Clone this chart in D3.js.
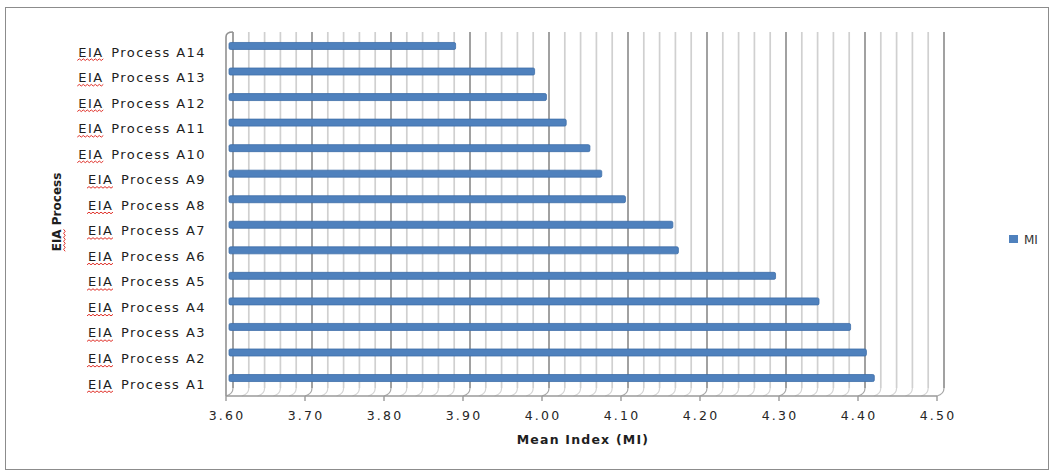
<!DOCTYPE html>
<html>
<head>
<meta charset="utf-8">
<script src="https://cdn.jsdelivr.net/npm/d3@7"></script>
<style>
  html, body { margin: 0; padding: 0; background: #fff; }
  svg { display: block; }
  text { white-space: pre; }
</style>
</head>
<body>
<svg id="chart" width="1051" height="470"></svg>
<script>
// ---- data ----
const categories = ["EIA  Process A14","EIA  Process A13","EIA  Process A12","EIA  Process A11","EIA  Process A10",
  "EIA  Process A9","EIA  Process A8","EIA  Process A7","EIA  Process A6","EIA  Process A5",
  "EIA  Process A4","EIA  Process A3","EIA  Process A2","EIA  Process A1"];
const values = [3.89, 3.99, 4.005, 4.03, 4.06, 4.075, 4.105, 4.165, 4.172, 4.295, 4.35, 4.39, 4.41, 4.42];
const tickLabels = ["3.60","3.70","3.80","3.90","4.00","4.10","4.20","4.30","4.40","4.50"];
const seriesName = "MI";
const xTitle = "Mean Index (MI)";
const yTitle = "EIA Process";

// ---- layout ----
const svg = d3.select("#chart");
const front = { left: 226, right: 937, bottom: 396 };
const depth = { dx: 7, dy: -8 };
const backTop = 32;
const barColor = "#4F81BD";

const x = d3.scaleLinear().domain([3.6, 4.5]).range([front.left, front.right]);
const y = d3.scaleBand().domain(categories).range([33.2, 390.8]).padding(0);

// outer frame
svg.append("rect").attr("x", 5.5).attr("y", 7.5).attr("width", 1043).attr("height", 462)
  .attr("fill", "none").attr("stroke", "#8c8c8c").attr("stroke-width", 1);

// gridlines on back wall (minor every 0.02, major every 0.1)
const gridVals = x.ticks(45);
const isMajor = v => Math.abs(Math.round(v * 10) - v * 10) < 1e-6;
const g = svg.append("g");
const backBottom = front.bottom + depth.dy;
g.selectAll("line.grid").data(gridVals).join("line")
  .attr("x1", d => x(d) + depth.dx).attr("x2", d => x(d) + depth.dx)
  .attr("y1", backTop).attr("y2", backBottom)
  .attr("stroke", d => isMajor(d) ? "#919191" : "#d0d0d0")
  .attr("stroke-width", 1.7);
// floor diagonals
g.selectAll("path.floor").data(gridVals).join("path")
  .attr("d", d => `M${x(d) + depth.dx},${backBottom} Q${x(d) + depth.dx},${front.bottom - 2} ${x(d)},${front.bottom}`)
  .attr("fill", "none")
  .attr("stroke", d => isMajor(d) ? "#a8a8a8" : "#d4d4d4")
  .attr("stroke-width", 1.2);

// left wall front edge + top corner
g.append("path")
  .attr("d", `M${front.left},${front.bottom} L${front.left},${backTop + 5} Q${front.left},${backTop} ${front.left + depth.dx},${backTop}`)
  .attr("fill", "none").attr("stroke", "#919191").attr("stroke-width", 1.6);

// floor front edge
g.append("line").attr("x1", front.left).attr("x2", front.right)
  .attr("y1", front.bottom).attr("y2", front.bottom)
  .attr("stroke", "#9a9a9a").attr("stroke-width", 1.4);

// x axis ticks & labels
const majorTicks = tickLabels.map(t => +t);
const ax = svg.append("g");
ax.selectAll("line").data(majorTicks).join("line")
  .attr("x1", d => x(d)).attr("x2", d => x(d))
  .attr("y1", front.bottom).attr("y2", front.bottom + 5)
  .attr("stroke", "#9a9a9a").attr("stroke-width", 1.4);
ax.selectAll("text").data(tickLabels).join("text")
  .attr("x", d => x(+d) + 1).attr("y", 420)
  .attr("text-anchor", "middle")
  .attr("font-family", "DejaVu Sans").attr("font-size", 12.5)
  .attr("letter-spacing", 2.2)
  .attr("fill", "#262626")
  .text(d => d);

// bars
const barOff = 3, barH = 7;
svg.append("g").selectAll("rect").data(values).join("rect")
  .attr("x", x(3.6) + barOff)
  .attr("y", (d, i) => y(categories[i]) + y.bandwidth() / 2 - barH / 2)
  .attr("width", d => x(d) - x(3.6) - barOff + 0.5)
  .attr("height", barH)
  .attr("rx", 1.5)
  .attr("fill", barColor)
  .attr("stroke", "#3f6fa8").attr("stroke-width", 0.8);

// category labels
const labG = svg.append("g");
categories.forEach((c, i) => {
  const cy = y(c) + y.bandwidth() / 2 + 6;
  const t = labG.append("text")
    .attr("x", 206).attr("y", cy).attr("dy", "0.35em")
    .attr("text-anchor", "end")
    .attr("font-family", "DejaVu Sans").attr("font-size", 13)
    .attr("letter-spacing", 1.45)
    .attr("fill", "#1e1e1e");
  const parts = c.split("  ");
  const t1 = t.append("tspan").text(parts[0]);
  t.append("tspan").attr("dx", 2).text(" " + parts[1]);
  const bb = t.node().getBBox();
  const w1 = t1.node().getComputedTextLength();
  // red spell-check squiggle under first word
  const sx = bb.x - 1, sy = cy + 8.5;
  let dpath = `M${sx},${sy}`;
  for (let k = 0; (k + 1) * 2 <= w1 + 2; k++) {
    dpath += ` L${sx + (k + 1) * 2},${sy + (k % 2 === 0 ? -1.6 : 0)}`;
  }
  labG.append("path").attr("d", dpath).attr("fill", "none")
    .attr("stroke", "#e0322b").attr("stroke-width", 1);
});

// axis titles
svg.append("text").attr("x", 583).attr("y", 440).attr("dy", "0.35em")
  .attr("text-anchor", "middle")
  .attr("font-family", "DejaVu Sans").attr("font-size", 12.5).attr("font-weight", "bold")
  .attr("letter-spacing", 1.2)
  .attr("fill", "#1e1e1e").text(xTitle);

const yt = svg.append("text")
  .attr("transform", "translate(57,212) rotate(-90)")
  .attr("text-anchor", "middle").attr("dy", "0.35em")
  .attr("font-family", "DejaVu Sans").attr("font-size", 12).attr("font-weight", "bold")
  .attr("fill", "#1e1e1e");
const yt1 = yt.append("tspan").text(yTitle.split(" ")[0]);
yt.append("tspan").text(" " + yTitle.split(" ")[1]);
{
  const bb = yt.node().getBBox();
  const w1 = yt1.node().getComputedTextLength();
  const baseY = bb.y + bb.height + 1;
  let dpath = `M${bb.x},${baseY}`;
  for (let k = 0; (k + 1) * 2 <= w1 + 1; k++) {
    dpath += ` L${bb.x + (k + 1) * 2},${baseY + (k % 2 === 0 ? -1.6 : 0)}`;
  }
  svg.append("path").attr("transform", "translate(57,212) rotate(-90)")
    .attr("d", dpath).attr("fill", "none")
    .attr("stroke", "#e0322b").attr("stroke-width", 1);
}

// legend
svg.append("rect").attr("x", 1009).attr("y", 235).attr("width", 9).attr("height", 8).attr("fill", barColor);
svg.append("text").attr("x", 1024).attr("y", 240).attr("dy", "0.35em")
  .attr("font-family", "DejaVu Sans").attr("font-size", 12)
  .attr("fill", "#333").text(seriesName);
</script>
</body>
</html>
